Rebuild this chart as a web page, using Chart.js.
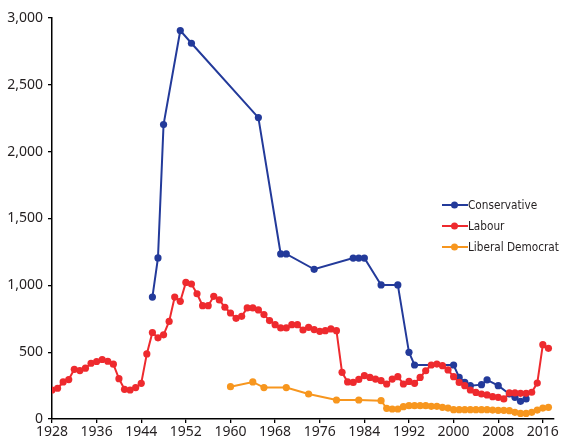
<!DOCTYPE html>
<html>
<head>
<meta charset="utf-8">
<script src="https://cdn.jsdelivr.net/npm/chart.js@4.4.1/dist/chart.umd.min.js"></script>
<style>
  html, body { margin: 0; padding: 0; background: #fff; }
  #wrap { width: 563px; height: 440px; }
</style>
</head>
<body>
<div id="wrap"><canvas id="myChart" width="563" height="440"></canvas></div>
<script>
// Datos
const xTicks = [1928, 1936, 1944, 1952, 1960, 1968, 1976, 1984, 1992, 2000, 2008, 2016];
const yTicks = [0, 500, 1000, 1500, 2000, 2500, 3000];

const conservativeYears = [1946, 1947, 1948, 1951, 1953, 1965, 1969, 1970, 1975, 1982, 1983, 1984, 1987, 1990, 1992, 1993, 2000, 2001, 2002, 2003, 2005, 2006, 2008, 2010, 2011, 2012, 2013];
const conservativeValues = [912, 1205, 2203, 2906, 2811, 2255, 1235, 1235, 1120, 1204, 1204, 1204, 1003, 1003, 499, 404, 404, 311, 274, 249, 257, 292, 249, 187, 162, 132, 150];

const labourYears = [];
for (let y = 1928; y <= 2017; y++) labourYears.push(y); // un punto por año
const labourValues = [
  217, 230, 277, 295, 372, 362, 380, 417, 430, 445, // 1928-1937
  432, 410, 302, 222, 217, 235, 267, 487, 647, 607, // 1938-1947
  630, 730, 912, 880, 1022, 1010, 937, 848, 848, 918, // 1948-1957
  891, 836, 793, 753, 768, 831, 831, 816, 781, 736, // 1958-1967
  706, 681, 681, 706, 706, 666, 686, 669, 656, 661, // 1968-1977
  674, 661, 349, 277, 274, 296, 324, 311, 299, 287, // 1978-1987
  262, 299, 317, 262, 281, 267, 311, 361, 404, 411, // 1988-1997
  399, 367, 317, 274, 249, 217, 199, 187, 180, 167, // 1998-2007
  162, 150, 195, 195, 192, 192, 200, 269, 556, 529  // 2008-2017
];

const libDemYears = [1960, 1964, 1966, 1970, 1974, 1979, 1983, 1987, 1988, 1989, 1990, 1991, 1992, 1993, 1994, 1995, 1996, 1997, 1998, 1999, 2000, 2001, 2002, 2003, 2004, 2005, 2006, 2007, 2008, 2009, 2010, 2011, 2012, 2013, 2014, 2015, 2016, 2017];
const libDemValues = [242, 277, 235, 235, 187, 142, 142, 137, 80, 75, 75, 92, 100, 100, 100, 100, 95, 95, 87, 82, 70, 70, 70, 70, 70, 70, 70, 67, 65, 65, 62, 50, 42, 42, 50, 67, 82, 87];

const seriesNames = ['Conservative', 'Labour', 'Liberal Democrat'];
const seriesColors = ['#233a9a', '#ee2a2e', '#f7961e'];

const toPoints = (xs, ys) => xs.map((x, i) => ({ x: x, y: ys[i] }));

const textColor = '#231f20';
const fontFamily = '"Noto Sans", "Open Sans", sans-serif';
const legendFamily = '"DejaVu Sans Condensed", "Noto Sans", sans-serif';

// Leyenda dentro del área del gráfico
const legendPlugin = {
  id: 'insideLegend',
  afterDraw(chart) {
    const c = chart.ctx;
    const x0 = 442, y0 = 205, gap = 21;
    c.save();
    // ajusta el tamaño para que el texto más largo quepa como en el original
    let size = 14;
    c.font = size + 'px ' + legendFamily;
    const w = c.measureText('Liberal Democrat').width;
    if (w > 91) size = size * 91 / w;
    c.font = size.toFixed(1) + 'px ' + legendFamily;
    c.textBaseline = 'middle';
    seriesNames.forEach((name, i) => {
      const y = y0 + i * gap;
      c.strokeStyle = seriesColors[i];
      c.lineWidth = 2;
      c.beginPath();
      c.moveTo(x0, y);
      c.lineTo(x0 + 26, y);
      c.stroke();
      c.fillStyle = seriesColors[i];
      c.beginPath();
      c.arc(x0 + 12.5, y, 3.5, 0, Math.PI * 2);
      c.fill();
      c.fillStyle = textColor;
      c.fillText(name, x0 + 26, y + 1);
    });
    c.restore();
  }
};

const ctx = document.getElementById('myChart');
const datasets = [
  [conservativeYears, conservativeValues, 3],
  [labourYears, labourValues, 2],
  [libDemYears, libDemValues, 1]
].map((d, i) => ({
  label: seriesNames[i],
  data: toPoints(d[0], d[1]),
  borderColor: seriesColors[i],
  backgroundColor: seriesColors[i],
  borderWidth: 2,
  pointRadius: 3.6,
  pointBorderWidth: 0,
  pointHoverRadius: 3.6,
  tension: 0,
  fill: false,
  order: d[2]
}));

new Chart(ctx, {
  type: 'line',
  data: { datasets: datasets },
  options: {
    responsive: false,
    animation: false,
    events: [],
    layout: { padding: { top: 18, right: 9, left: 0, bottom: 0 } },
    plugins: {
      legend: { display: false },
      tooltip: { enabled: false }
    },
    scales: {
      x: {
        type: 'linear',
        min: 1928,
        max: 2018,
        afterBuildTicks: (axis) => { axis.ticks = xTicks.map(v => ({ value: v })); },
        afterFit: (axis) => { axis.height = 21; },
        grid: { drawOnChartArea: false, drawTicks: true, tickLength: 4, color: '#000', lineWidth: 1.3 },
        border: { color: '#000', width: 1.5 },
        ticks: {
          color: textColor,
          font: { family: fontFamily, size: 14 },
          padding: 1,
          maxRotation: 0,
          autoSkip: false,
          callback: (v) => String(v)
        }
      },
      y: {
        min: 0,
        max: 3000,
        afterBuildTicks: (axis) => { axis.ticks = yTicks.map(v => ({ value: v })); },
        afterFit: (axis) => { axis.width = 52; },
        grid: { drawOnChartArea: false, drawTicks: true, tickLength: 4, color: '#000', lineWidth: 1.3 },
        border: { color: '#000', width: 1.5 },
        ticks: {
          color: textColor,
          font: { family: fontFamily, size: 14 },
          padding: 5,
          callback: (v) => v.toLocaleString('en-US')
        }
      }
    }
  },
  plugins: [legendPlugin]
});
</script>
</body>
</html>
